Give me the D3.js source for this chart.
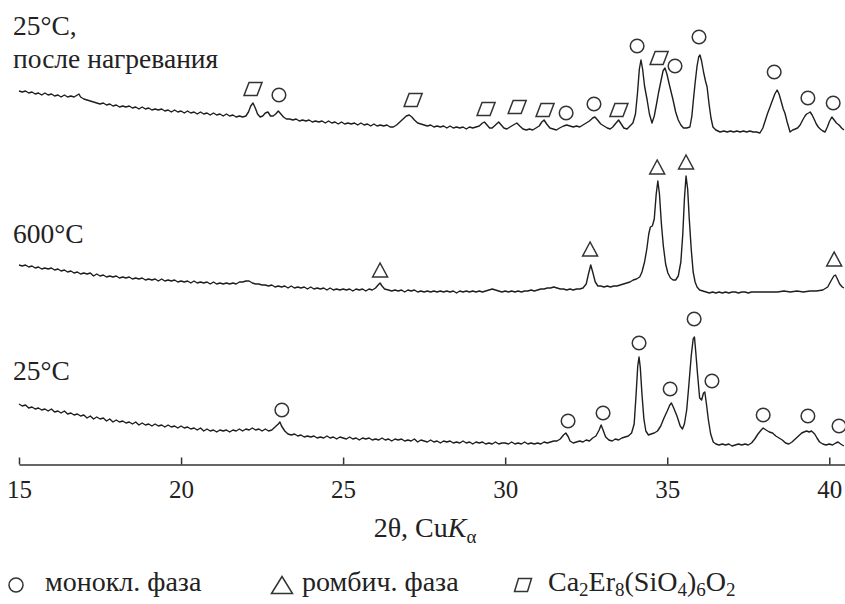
<!DOCTYPE html>
<html>
<head>
<meta charset="utf-8">
<script src="https://cdn.jsdelivr.net/npm/d3@7/dist/d3.min.js"></script>
<style>
body { margin: 0; background: #fff; }
</style>
</head>
<body>
<svg id="chart" width="845" height="604"></svg>
<script>
// 2theta (deg) and intensity (a.u.), each trace relative to its own offset
var rt = [[15.0,60],[15.1,58],[15.2,59],[15.3,56],[15.4,57],[15.5,55],[15.6,56],[15.7,54],[15.8,55],[15.9,53],[16.0,55],[16.1,52],[16.2,53],[16.3,51],[16.4,53],[16.5,50],[16.6,51],[16.7,49],[16.8,50],[16.9,48],[17.0,49],[17.1,46],[17.2,48],[17.3,45],[17.4,47],[17.5,45],[17.6,46],[17.7,43],[17.8,45],[17.9,42],[18.0,44],[18.1,42],[18.2,43],[18.3,41],[18.4,42],[18.5,40],[18.6,42],[18.7,39],[18.8,41],[18.9,39],[19.0,40],[19.1,38],[19.2,40],[19.3,38],[19.4,39],[19.5,37],[19.6,39],[19.7,37],[19.8,38],[19.9,36],[20.0,38],[20.1,36],[20.2,37],[20.3,35],[20.4,36],[20.5,34],[20.6,36],[20.7,33],[20.8,35],[20.9,33],[21.0,34],[21.1,32],[21.2,34],[21.3,33],[21.4,34],[21.5,32],[21.6,34],[21.7,33],[21.8,35],[21.9,33],[22.0,35],[22.1,34],[22.2,36],[22.3,34],[22.4,35],[22.5,33],[22.6,35],[22.7,33],[22.8,34],[22.9,37],[23.0,40],[23.05,42],[23.1,38],[23.2,33],[23.3,30],[23.4,29],[23.5,30],[23.6,28],[23.7,29],[23.8,27],[23.9,28],[24.0,27],[24.1,28],[24.2,26],[24.3,27],[24.4,26],[24.5,28],[24.6,26],[24.7,27],[24.8,25],[24.9,27],[25.0,26],[25.1,25],[25.2,27],[25.3,25],[25.4,26],[25.5,24],[25.6,26],[25.7,25],[25.8,26],[25.9,24],[26.0,25],[26.1,24],[26.2,26],[26.3,24],[26.4,25],[26.5,23],[26.6,25],[26.7,24],[26.8,25],[26.9,23],[27.0,24],[27.1,23],[27.2,25],[27.3,22],[27.4,24],[27.5,23],[27.6,22],[27.7,24],[27.8,22],[27.9,23],[28.0,21],[28.1,23],[28.2,22],[28.3,23],[28.4,21],[28.5,22],[28.6,21],[28.7,23],[28.8,21],[28.9,22],[29.0,20],[29.1,22],[29.2,21],[29.3,22],[29.4,20],[29.5,21],[29.6,20],[29.7,22],[29.8,20],[29.9,21],[30.0,21],[30.1,20],[30.2,22],[30.3,20],[30.4,21],[30.5,20],[30.6,22],[30.7,20],[30.8,21],[30.9,20],[31.0,21],[31.1,20],[31.2,22],[31.3,21],[31.4,22],[31.5,23],[31.6,23],[31.7,25],[31.8,29],[31.87,31],[31.95,27],[32.0,23],[32.1,21],[32.2,22],[32.3,23],[32.4,22],[32.5,24],[32.6,23],[32.7,26],[32.8,28],[32.9,34],[32.96,39],[33.02,34],[33.1,27],[33.2,24],[33.3,23],[33.4,25],[33.5,24],[33.6,26],[33.7,27],[33.8,28],[33.9,31],[33.98,40],[34.04,70],[34.09,98],[34.13,107],[34.17,96],[34.22,70],[34.28,45],[34.34,33],[34.42,29],[34.5,30],[34.6,31],[34.7,33],[34.8,38],[34.9,46],[35.0,53],[35.08,59],[35.13,61],[35.2,56],[35.3,48],[35.4,38],[35.47,35],[35.53,40],[35.6,54],[35.67,80],[35.74,108],[35.8,125],[35.84,127],[35.88,112],[35.94,88],[36.0,66],[36.06,64],[36.12,71],[36.16,72],[36.21,60],[36.27,44],[36.34,30],[36.42,22],[36.5,20],[36.6,19],[36.7,20],[36.8,19],[36.9,20],[37.0,18],[37.1,19],[37.2,20],[37.3,19],[37.4,20],[37.5,19],[37.6,21],[37.7,25],[37.8,30],[37.9,34],[37.96,36],[38.05,34],[38.15,32],[38.25,31],[38.35,28],[38.45,26],[38.55,24],[38.65,21],[38.75,20],[38.85,22],[38.95,25],[39.05,28],[39.15,31],[39.22,32],[39.3,33],[39.38,32],[39.45,33],[39.55,30],[39.62,26],[39.7,22],[39.8,20],[39.9,19],[40.0,20],[40.1,19],[40.2,21],[40.27,22],[40.35,20],[40.45,18]];

var t600 = [[15.0,29],[15.1,28],[15.2,29],[15.3,27],[15.4,28],[15.5,26],[15.6,27],[15.7,25],[15.8,26],[15.9,25],[16.0,26],[16.1,24],[16.2,25],[16.3,23],[16.4,24],[16.5,22],[16.6,23],[16.7,21],[16.8,22],[16.9,20],[17.0,21],[17.1,20],[17.2,21],[17.3,18],[17.4,20],[17.5,18],[17.6,19],[17.7,17],[17.8,18],[17.9,17],[18.0,18],[18.1,16],[18.2,17],[18.3,16],[18.4,17],[18.5,15],[18.6,16],[18.7,15],[18.8,16],[18.9,14],[19.0,15],[19.1,14],[19.2,15],[19.3,13],[19.4,15],[19.5,13],[19.6,14],[19.7,13],[19.8,14],[19.9,12],[20.0,13],[20.1,12],[20.2,13],[20.3,11],[20.4,13],[20.5,11],[20.6,12],[20.7,11],[20.8,12],[20.9,10],[21.0,12],[21.1,10],[21.2,11],[21.3,10],[21.4,11],[21.5,10],[21.6,11],[21.7,10],[21.8,12],[21.9,12],[22.0,13],[22.1,13],[22.2,11],[22.3,10],[22.4,10],[22.5,9],[22.6,9],[22.7,8],[22.8,9],[22.9,7],[23.0,8],[23.1,7],[23.2,8],[23.3,6],[23.4,8],[23.5,6],[23.6,7],[23.7,6],[23.8,7],[23.9,5],[24.0,7],[24.1,5],[24.2,6],[24.3,5],[24.4,6],[24.5,4],[24.6,6],[24.7,4],[24.8,5],[24.9,4],[25.0,5],[25.1,4],[25.2,5],[25.3,3],[25.4,5],[25.5,4],[25.6,5],[25.7,3],[25.8,5],[25.9,4],[26.0,6],[26.08,9],[26.14,11],[26.2,8],[26.28,5],[26.4,4],[26.5,3],[26.6,4],[26.7,3],[26.8,4],[26.9,2],[27.0,4],[27.1,3],[27.2,4],[27.3,2],[27.4,3],[27.5,2],[27.6,3],[27.7,2],[27.8,3],[27.9,2],[28.0,3],[28.1,2],[28.2,3],[28.3,2],[28.4,3],[28.5,1],[28.6,3],[28.7,2],[28.8,3],[28.9,2],[29.0,3],[29.1,2],[29.2,3],[29.3,2],[29.4,3],[29.5,4],[29.6,5],[29.7,4],[29.8,3],[29.9,2],[30.0,3],[30.1,2],[30.2,3],[30.3,2],[30.4,3],[30.5,2],[30.6,3],[30.7,3],[30.8,4],[30.9,3],[31.0,4],[31.1,5],[31.2,5],[31.3,6],[31.4,6],[31.5,7],[31.6,6],[31.7,5],[31.8,5],[31.9,4],[32.0,5],[32.1,4],[32.2,5],[32.3,5],[32.4,6],[32.5,10],[32.57,20],[32.64,29],[32.7,22],[32.78,12],[32.86,8],[32.95,8],[33.05,7],[33.15,8],[33.25,7],[33.35,8],[33.45,8],[33.55,9],[33.65,10],[33.75,11],[33.85,12],[33.95,14],[34.05,15],[34.15,17],[34.22,22],[34.3,32],[34.37,45],[34.43,60],[34.48,67],[34.54,68],[34.6,75],[34.66,100],[34.71,113],[34.76,100],[34.82,70],[34.88,48],[34.95,30],[35.02,21],[35.1,16],[35.18,14],[35.26,14],[35.34,18],[35.42,32],[35.48,60],[35.53,95],[35.58,118],[35.63,105],[35.68,75],[35.74,45],[35.8,22],[35.86,12],[35.92,7],[36.0,4],[36.1,3],[36.2,2],[36.3,1],[36.4,2],[36.5,1],[36.6,2],[36.7,1],[36.8,2],[36.9,1],[37.0,2],[37.1,2],[37.2,1],[37.3,2],[37.4,2],[37.5,1],[37.6,2],[37.7,2],[37.8,2],[37.9,2],[38.0,2],[38.2,2],[38.4,2],[38.6,3],[38.8,2],[39.0,3],[39.2,2],[39.4,3],[39.6,3],[39.8,4],[39.95,7],[40.05,13],[40.14,18],[40.19,19],[40.25,15],[40.32,10],[40.4,7],[40.45,6]];

var tAfter = [[15.0,43],[15.1,42],[15.2,43],[15.3,41],[15.4,42],[15.5,40],[15.6,41],[15.7,39],[15.8,41],[15.9,39],[16.0,40],[16.1,38],[16.2,39],[16.3,37],[16.4,39],[16.5,37],[16.6,38],[16.7,37],[16.8,39],[16.85,40],[16.9,37],[17.0,35],[17.1,34],[17.2,33],[17.3,32],[17.4,31],[17.5,30],[17.6,31],[17.7,29],[17.8,30],[17.9,28],[18.0,29],[18.1,27],[18.2,28],[18.3,27],[18.4,28],[18.5,26],[18.6,27],[18.7,25],[18.8,27],[18.9,25],[19.0,26],[19.1,24],[19.2,25],[19.3,24],[19.4,25],[19.5,23],[19.6,24],[19.7,22],[19.8,24],[19.9,22],[20.0,23],[20.1,21],[20.2,23],[20.3,21],[20.4,22],[20.5,20],[20.6,22],[20.7,20],[20.8,21],[20.9,19],[21.0,21],[21.1,19],[21.2,20],[21.3,18],[21.4,20],[21.5,18],[21.6,19],[21.7,17],[21.8,18],[21.9,17],[22.0,18],[22.08,22],[22.15,28],[22.22,31],[22.29,26],[22.36,20],[22.44,17],[22.52,18],[22.6,21],[22.68,22],[22.76,18],[22.84,18],[22.92,20],[23.0,23],[23.08,20],[23.16,17],[23.25,15],[23.35,15],[23.45,14],[23.55,15],[23.65,13],[23.75,14],[23.85,13],[23.95,14],[24.05,12],[24.15,13],[24.25,12],[24.35,13],[24.45,11],[24.55,13],[24.65,11],[24.75,12],[24.85,10],[24.95,12],[25.05,10],[25.15,11],[25.25,10],[25.35,11],[25.45,9],[25.55,11],[25.65,9],[25.75,10],[25.85,8],[25.95,10],[26.05,8],[26.15,9],[26.25,8],[26.35,9],[26.45,7],[26.55,7],[26.65,9],[26.75,12],[26.85,15],[26.95,18],[27.04,19],[27.12,17],[27.2,14],[27.3,11],[27.4,10],[27.5,9],[27.6,8],[27.7,9],[27.8,7],[27.9,8],[28.0,7],[28.1,8],[28.2,6],[28.3,8],[28.4,6],[28.5,7],[28.6,6],[28.7,7],[28.8,5],[28.9,7],[29.0,6],[29.1,7],[29.2,8],[29.3,11],[29.36,12],[29.44,9],[29.52,6],[29.6,6],[29.7,9],[29.8,12],[29.88,9],[29.96,6],[30.05,5],[30.15,7],[30.25,9],[30.36,11],[30.45,8],[30.55,5],[30.65,4],[30.75,5],[30.85,4],[30.95,6],[31.05,8],[31.13,12],[31.2,14],[31.28,10],[31.38,6],[31.48,5],[31.58,4],[31.68,6],[31.8,8],[31.9,9],[32.0,8],[32.1,7],[32.2,8],[32.3,7],[32.4,9],[32.5,11],[32.6,13],[32.7,16],[32.77,17],[32.85,14],[32.95,10],[33.05,8],[33.15,6],[33.24,5],[33.32,7],[33.42,11],[33.5,14],[33.58,10],[33.66,6],[33.76,5],[33.85,8],[33.94,11],[34.02,20],[34.08,40],[34.14,65],[34.19,74],[34.24,65],[34.3,48],[34.38,34],[34.45,20],[34.53,11],[34.6,18],[34.67,30],[34.73,41],[34.8,52],[34.87,63],[34.93,66],[34.99,60],[35.06,50],[35.12,42],[35.18,34],[35.26,22],[35.34,14],[35.42,9],[35.5,6],[35.6,6],[35.7,7],[35.76,18],[35.81,35],[35.86,51],[35.92,68],[35.97,77],[36.01,79],[36.06,73],[36.12,62],[36.18,53],[36.23,47],[36.29,30],[36.35,16],[36.41,7],[36.5,4],[36.63,2],[36.75,3],[36.85,2],[36.95,3],[37.05,2],[37.15,3],[37.25,2],[37.35,3],[37.45,2],[37.55,3],[37.65,2],[37.75,2],[37.86,1],[37.95,6],[38.03,14],[38.1,21],[38.17,27],[38.25,34],[38.32,40],[38.39,44],[38.45,40],[38.52,32],[38.58,25],[38.63,21],[38.7,12],[38.79,2],[38.87,4],[38.95,5],[39.02,6],[39.1,9],[39.18,14],[39.25,18],[39.3,20],[39.36,21],[39.41,22],[39.47,19],[39.53,15],[39.6,10],[39.66,7],[39.72,5],[39.8,3],[39.87,2],[39.94,7],[40.01,13],[40.08,17],[40.15,14],[40.22,11],[40.3,9],[40.38,6],[40.45,4]];

// phase marks [2theta, intensity]
var monoRt = [[23.11,54],[31.94,43],[33.02,51],[34.13,121],[35.09,75],[35.83,145],[36.38,83],[37.96,49],[39.34,48],[40.3,38]];
var orth600 = [[26.14,24],[32.62,45],[34.69,127],[35.58,132],[40.15,35]];
var monoAfter = [[23.02,39],[31.88,21],[32.74,30],[34.07,88],[35.24,68],[35.98,97],[38.3,62],[39.34,36],[40.12,31]];
var apatAfter = [[22.22,45],[27.16,34],[29.41,25],[30.37,27],[31.23,24],[33.51,24],[34.75,76]];

var xTicks = [15, 20, 25, 30, 35, 40];

var serif = "'Liberation Serif', 'Times New Roman', serif";
var svg = d3.select("#chart");
var x = d3.scaleLinear().domain([15, 40.5]).range([19, 845.5]);
var y = d3.scaleLinear().domain([0, 440]).range([464, 24]);

var traces = [
  { data: rt, off: 0 },
  { data: t600, off: 170 },
  { data: tAfter, off: 330 }
];

traces.forEach(function(t) {
  var line = d3.line()
    .x(function(d) { return x(d[0]); })
    .y(function(d) { return y(d[1] + t.off); });
  svg.append("path")
    .datum(t.data)
    .attr("d", line)
    .attr("fill", "none")
    .attr("stroke", "#1e1e1e")
    .attr("stroke-width", 1.4)
    .attr("stroke-linejoin", "round");
});

var markColor = "#333";
function circle(g, cx, cy, r) {
  g.append("circle").attr("cx", cx).attr("cy", cy).attr("r", r)
    .attr("fill", "none").attr("stroke", markColor).attr("stroke-width", 1.5);
}
function triangle(g, cx, cy, w, h) {
  g.append("path")
    .attr("d", "M" + (cx - w / 2) + "," + (cy + h / 2) + "L" + cx + "," + (cy - h / 2) + "L" + (cx + w / 2) + "," + (cy + h / 2) + "Z")
    .attr("fill", "none").attr("stroke", markColor).attr("stroke-width", 1.5);
}
function para(g, cx, cy, w, h, s) {
  g.append("path")
    .attr("d", "M" + (cx - w / 2 + s) + "," + (cy - h / 2) + "L" + (cx + w / 2) + "," + (cy - h / 2) +
      "L" + (cx + w / 2 - s) + "," + (cy + h / 2) + "L" + (cx - w / 2) + "," + (cy + h / 2) + "Z")
    .attr("fill", "none").attr("stroke", markColor).attr("stroke-width", 1.5);
}
function label(g, xp, yp, size, str) {
  return g.append("text").attr("x", xp).attr("y", yp)
    .style("font-family", serif).style("font-size", size + "px").style("fill", "#222")
    .text(str);
}

var marks = svg.append("g");
monoRt.forEach(function(d) { circle(marks, x(d[0]), y(d[1]), 6.8); });
orth600.forEach(function(d) { triangle(marks, x(d[0]), y(d[1] + 170), 15, 14); });
monoAfter.forEach(function(d) { circle(marks, x(d[0]), y(d[1] + 330), 6.8); });
apatAfter.forEach(function(d) { para(marks, x(d[0]), y(d[1] + 330), 18, 13, 5); });

// axis
var xAxis = d3.axisBottom(x).tickValues(xTicks).tickSize(-7).tickSizeOuter(0).tickPadding(16);
var ax = svg.append("g").attr("transform", "translate(0,464.5)").call(xAxis);
ax.select(".domain").attr("stroke", "#333").attr("stroke-width", 1.5);
ax.selectAll(".tick line").attr("stroke", "#333").attr("stroke-width", 1.5);
ax.selectAll(".tick text")
  .style("font-family", serif).style("font-size", "25px").style("fill", "#222");

// axis title
var xt = svg.append("text").attr("x", 425).attr("y", 537).attr("text-anchor", "middle")
  .style("font-family", serif).style("font-size", "28px").style("fill", "#222");
xt.append("tspan").text("2θ, Cu");
xt.append("tspan").style("font-style", "italic").text("K");
xt.append("tspan").style("font-size", "19px").attr("dy", 6).text("α");

// trace labels
label(svg, 13, 35, 27.5, "25°C,");
label(svg, 13, 68, 27.5, "после нагревания");
label(svg, 13, 243, 27.5, "600°C");
label(svg, 13, 380, 27.5, "25°C");

// legend
var leg = svg.append("g");
circle(leg, 16, 585, 7);
label(leg, 45, 591, 28, "монокл. фаза");
triangle(leg, 282, 585, 21, 17);
label(leg, 302, 591, 28, "ромбич. фаза");
para(leg, 523, 585, 17, 13, 4);
var f = label(leg, 548, 591, 28, "");
f.append("tspan").text("Ca");
f.append("tspan").style("font-size", "19px").attr("dy", 5).text("2");
f.append("tspan").attr("dy", -5).text("Er");
f.append("tspan").style("font-size", "19px").attr("dy", 5).text("8");
f.append("tspan").attr("dy", -5).text("(SiO");
f.append("tspan").style("font-size", "19px").attr("dy", 5).text("4");
f.append("tspan").attr("dy", -5).text(")");
f.append("tspan").style("font-size", "19px").attr("dy", 5).text("6");
f.append("tspan").attr("dy", -5).text("O");
f.append("tspan").style("font-size", "19px").attr("dy", 5).text("2");
</script>
</body>
</html>
